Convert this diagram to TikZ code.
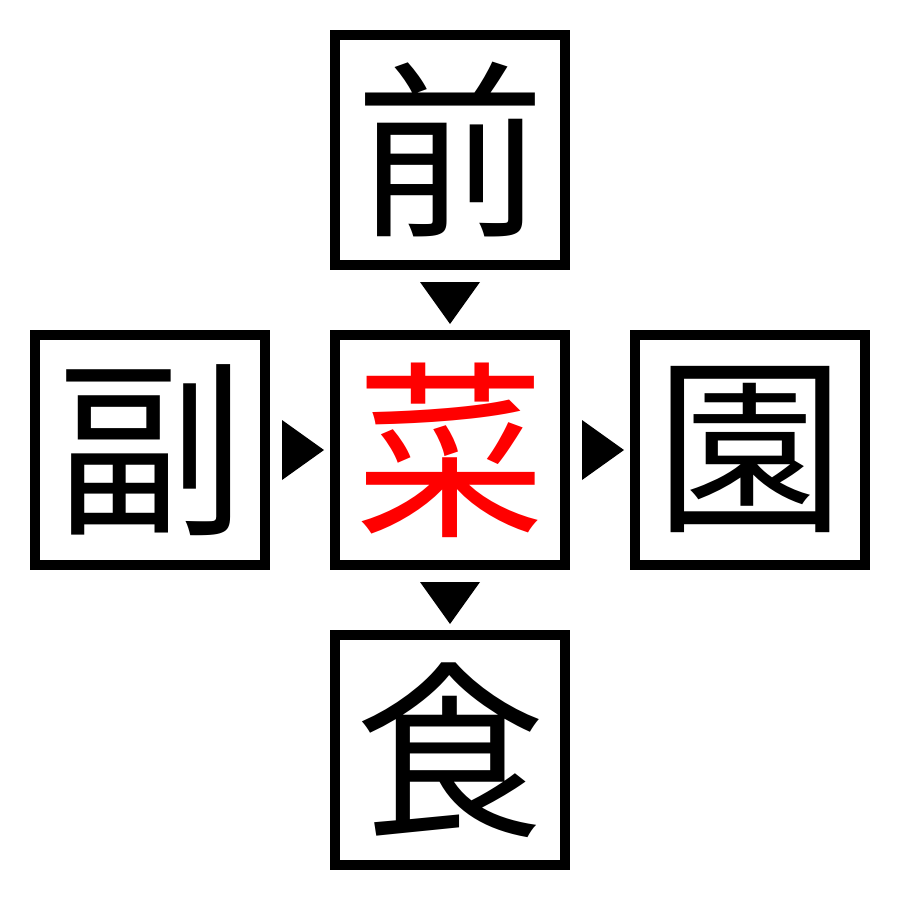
\documentclass[tikz,border=0pt]{standalone}
\usepackage{fontspec}
\usetikzlibrary{calc}
\newfontfamily\cjk{Noto Sans CJK JP}
\begin{document}
\begin{tikzpicture}[x=0.01cm,y=-0.01cm,
  charbox/.style={draw=black,line width=0.1cm,minimum size=2.3cm,inner sep=0pt,
    font=\cjk\fontsize{54}{54}\selectfont},
  tri/.style={fill=black,draw=none}]
\useasboundingbox (0,0) rectangle (900,900);
\node[charbox] (top) at (450,150) {前};
\node[charbox] (left) at (150,450) {副};
\node[charbox,text=red] (mid) at (450,450) {菜};
\node[charbox] (right) at (750,450) {園};
\node[charbox] (bot) at (450,750) {食};
\coordinate (t1) at (450,303);
\coordinate (t2) at (450,603);
\coordinate (t3) at (303,450);
\coordinate (t4) at (603,450);
\fill[tri] ($(t1)+(-30,-21)$) -- ($(t1)+(30,-21)$) -- ($(t1)+(0,21)$) -- cycle;
\fill[tri] ($(t2)+(-30,-21)$) -- ($(t2)+(30,-21)$) -- ($(t2)+(0,21)$) -- cycle;
\fill[tri] ($(t3)+(-21,-30)$) -- ($(t3)+(-21,30)$) -- ($(t3)+(21,0)$) -- cycle;
\fill[tri] ($(t4)+(-21,-30)$) -- ($(t4)+(-21,30)$) -- ($(t4)+(21,0)$) -- cycle;
\end{tikzpicture}
\end{document}
